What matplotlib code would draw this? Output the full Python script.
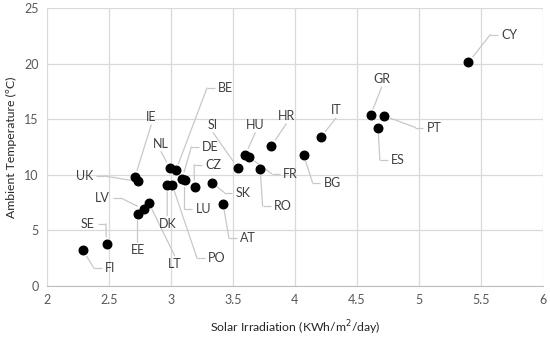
import matplotlib
import matplotlib.pyplot as plt

matplotlib.use('Agg')

# Country codes, solar irradiation (kWh/m2/day), ambient temperature (C)
countries = ['FI', 'SE', 'EE', 'LV', 'LT', 'IE', 'UK', 'NL', 'BE', 'DE',
             'LU', 'DK', 'PO', 'CZ', 'SK', 'AT', 'SI', 'HU', 'FR', 'RO',
             'HR', 'BG', 'IT', 'GR', 'PT', 'ES', 'CY']
irradiation = [2.29, 2.48, 2.73, 2.78, 2.82, 2.71, 2.73, 2.99, 3.04, 3.09,
               3.11, 2.97, 3.01, 3.19, 3.33, 3.42, 3.54, 3.60, 3.63, 3.72,
               3.81, 4.07, 4.21, 4.61, 4.72, 4.67, 5.40]
temperature = [3.2, 3.8, 6.5, 6.9, 7.5, 9.8, 9.4, 10.6, 10.4, 9.65,
               9.5, 9.1, 9.1, 8.9, 9.3, 7.4, 10.6, 11.8, 11.6, 10.5,
               12.6, 11.8, 13.4, 15.35, 15.3, 14.25, 20.1]
# Where each label sits (data units)
label_x = [2.51, 2.33, 2.73, 2.45, 3.03, 2.84, 2.30, 2.92, 3.44, 3.32,
           3.26, 2.97, 3.37, 3.34, 3.58, 3.62, 3.34, 3.68, 3.96, 3.90,
           3.93, 4.30, 4.33, 4.70, 5.12, 4.83, 5.73]
label_y = [1.6, 5.6, 3.2, 7.9, 2.0, 15.2, 9.9, 12.8, 17.8, 12.5,
           6.9, 5.6, 2.5, 10.9, 8.4, 4.3, 14.5, 14.5, 10.1, 7.2,
           15.3, 9.3, 15.8, 18.6, 14.25, 11.3, 22.6]

LEADER = '#c8c8c8'
plt.rcParams['font.family'] = ['Lato', 'DejaVu Sans']

fig = plt.figure(figsize=(5.5, 3.43), dpi=100)
ax = fig.add_axes([0.0855, 0.166, 0.9015, 0.811])

ax.scatter(irradiation, temperature, s=38, color='black', zorder=3)

ax.set_xlim(2, 6)
ax.set_ylim(0, 25)

texts = []
for name, lx, ly in zip(countries, label_x, label_y):
    t = ax.text(lx, ly, name, ha='center', va='center', fontsize=9,
                color='#404040', zorder=2)
    texts.append(t)

# Leader lines: Excel style, short horizontal stub then a line to the point
fig.canvas.draw()
renderer = fig.canvas.get_renderer()
to_px = ax.transData
to_data = ax.transData.inverted()
for t, px, py in zip(texts, irradiation, temperature):
    bb = t.get_window_extent(renderer)
    lx, ly = t.get_position()
    cx, cy = to_px.transform((lx, ly))
    ptx, pty = to_px.transform((px, py))
    dx, dy = ptx - cx, pty - cy
    if abs(dx) > 0.58 * abs(dy):
        side = 1 if dx > 0 else -1
        x0 = (bb.x1 + 3) if side > 0 else (bb.x0 - 3)
        x1 = x0 + side * 8
        start = to_data.transform((x0, cy))
        stub = to_data.transform((x1, cy))
        ax.plot([start[0], stub[0]], [start[1], stub[1]], color=LEADER,
                lw=0.9, zorder=1, solid_capstyle='butt')
        ax.annotate('', xy=(px, py), xytext=tuple(stub),
                    arrowprops=dict(arrowstyle='-', color=LEADER, lw=0.9,
                                    shrinkA=0, shrinkB=5), zorder=1)
    else:
        y0 = (bb.y1 + 2) if dy > 0 else (bb.y0 - 2)
        start = to_data.transform((cx, y0))
        ax.annotate('', xy=(px, py), xytext=tuple(start),
                    arrowprops=dict(arrowstyle='-', color=LEADER, lw=0.9,
                                    shrinkA=0, shrinkB=5), zorder=1)

ax.set_xticks([2, 2.5, 3, 3.5, 4, 4.5, 5, 5.5, 6])
ax.set_xticklabels(['2', '2.5', '3', '3.5', '4', '4.5', '5', '5.5', '6'])
ax.set_yticks(range(0, 26, 5))
ax.grid(True, color='#d9d9d9', lw=0.9, zorder=0)
ax.set_axisbelow(True)
for side in ['top', 'right', 'left']:
    ax.spines[side].set_visible(False)
ax.spines['bottom'].set_color('#bfbfbf')
ax.tick_params(length=0, labelsize=9, colors='#595959', pad=6)

ax.set_xlabel('Solar Irradiation (KWh/m$^2$/day)', fontsize=8.8,
              color='#262626', labelpad=9)
ax.set_ylabel('Ambient Temperature (ºC)', fontsize=8.8, color='#262626',
              labelpad=5)

fig.savefig('out.png')
